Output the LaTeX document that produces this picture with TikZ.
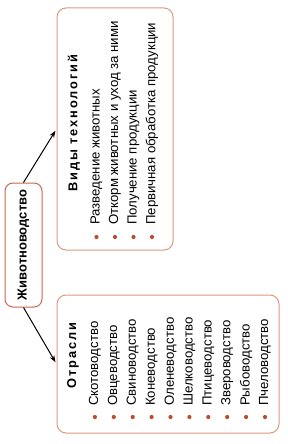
\documentclass[tikz,border=0pt]{standalone}
\usepackage{fontspec}
\setmainfont{Liberation Sans}
\newfontfamily\headfont[LetterSpace=15]{Liberation Sans}
\usepackage{tikz}
\usetikzlibrary{arrows.meta,positioning,calc}
\definecolor{boxedge}{HTML}{DE9A7E}
\definecolor{hubedge}{HTML}{C9674E}
\definecolor{dotred}{HTML}{BE4A30}

\begin{document}
\begin{tikzpicture}[
    x=1pt, y=1pt,
    font=\fontsize{13.2}{15}\selectfont,
    >=Stealth,
    group/.style={
      draw=boxedge, rounded corners=9pt, line width=1pt, fill=white,
      inner sep=0pt,
    },
    hub/.style={
      draw=hubedge, rounded corners=8pt, line width=1pt, fill=white,
      minimum width=124pt, minimum height=37pt, inner sep=0pt,
      font=\fontsize{13}{15}\selectfont\bfseries, rotate=90,
    },
    head/.style={rotate=90, anchor=west, inner sep=0pt,
      font=\fontsize{12.8}{15}\selectfont\headfont\bfseries},
    item/.style={rotate=90, anchor=west, inner sep=0pt},
    dot/.style={circle, fill=dotred, inner sep=0pt, minimum size=4.2pt},
    arr/.style={->, line width=1pt, shorten >=2pt, >={Stealth[length=7pt,width=5pt]}},
  ]
    \useasboundingbox (0,0) rectangle (288,-444);

    % ===== central node =====
    \node[hub] (zhiv) at (23.5,-245) {Животноводство};

    % ===== group frames =====
    \node[group, minimum width=116pt, minimum height=242pt] (tech) at (115,-129) {};
    \node[group, minimum width=222pt, minimum height=138pt] (branch) at (168,-364) {};

    % ===== technologies =====
    \node[head] (techhead) at (74,-192) {Виды технологий};
    \foreach \t [count=\i] in {Разведение животных,
        Откорм животных и уход за ними,
        Получение продукции,
        Первичная обработка продукции} {
      \node[item] (tech\i) at (78+18.5*\i,-225) {\t};
      \node[dot] (techdot\i) at (78+18.5*\i,-237) {};
    }

    % ===== branches =====
    \node[head] (branchhead) at (73,-389) {Отрасли};
    \foreach \t [count=\i] in {Скотоводство, Овцеводство, Свиноводство,
        Коневодство, Оленеводство, Шелководство, Птицеводство,
        Звероводство, Рыбоводство, Пчеловодство} {
      \node[item] (branch\i) at (76+18.9*\i,-406) {\t};
      \node[dot] (branchdot\i) at (76+18.9*\i,-417) {};
    }

    % ===== arrows =====
    \draw[arr] (zhiv.east) -- (tech.west);
    \draw[arr] (zhiv.west) -- (branch.west);
  \end{tikzpicture}
\end{document}
